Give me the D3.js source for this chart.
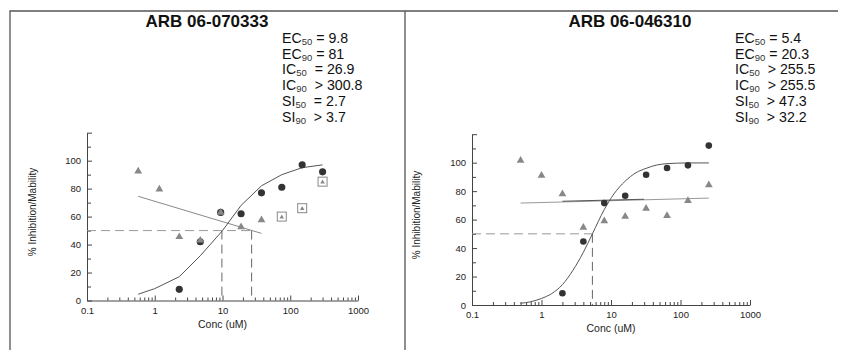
<!DOCTYPE html>
<html>
<head>
<meta charset="utf-8">
<script src="https://cdn.jsdelivr.net/npm/d3@7"></script>
<style>
  html, body { margin: 0; padding: 0; background: #fff; }
  svg { display: block; font-family: "Liberation Sans", Arial, sans-serif; }
  text { white-space: pre; }
</style>
</head>
<body>
<svg id="chart" width="843" height="350"></svg>
<script>
// ---------------- DATA ----------------
const titles = ["ARB 06-070333", "ARB 06-046310"];
const xTickValues = [0.1, 1, 10, 100, 1000];
const xTickLabels = ["0.1", "1", "10", "100", "1000"];
const yTickValues = [0, 20, 40, 60, 80, 100];
const yTickLabels = ["0", "20", "40", "60", "80", "100"];

// stats: [name, subscript, relation, value]
const leftStats = [
  ["EC", "50", " = ", "9.8"],
  ["EC", "90", " = ", "81"],
  ["IC", "50", "  = ", "26.9"],
  ["IC", "90", "  > ", "300.8"],
  ["SI", "50", "  = ", "2.7"],
  ["SI", "90", "  > ", "3.7"]
];
const rightStats = [
  ["EC", "50", " = ", "5.4"],
  ["EC", "90", " = ", "20.3"],
  ["IC", "50", "  > ", "255.5"],
  ["IC", "90", "  > ", "255.5"],
  ["SI", "50", "  > ", "47.3"],
  ["SI", "90", "  > ", "32.2"]
];

// left compound
const leftConc = [2.3, 4.7, 9.4, 18.8, 37.6, 75, 150, 300];
const leftInhibition = [8, 42, 63, 62, 77, 81, 97, 92];
const leftViabConc = [0.57, 1.17, 2.3, 4.7, 9.4, 18.8, 37.6];
const leftViability = [92.5, 79.5, 45.5, 43, 63, 52.5, 57.5];
const leftBoxedConc = [75, 150, 300];
const leftBoxedViability = [60, 66, 85];
const leftFitConc = [0.57, 1, 2.3, 4.7, 10, 18.8, 37.6, 75, 150, 300];
const leftFitValue = [4.5, 8.5, 17, 32, 50, 68, 82, 90, 95, 97];
const leftViabFitConc = [0.57, 37.6];
const leftViabFitValue = [74.5, 48];
const leftEC50 = 9.8;
const leftIC50 = 26.9;

// right compound
const rightConc = [2, 4, 8, 16, 32, 64, 128, 255.5];
const rightInhibition = [8.2, 44.6, 71.6, 76.8, 91.5, 96.2, 98.1, 112];
const rightViabConc = [0.5, 1, 2, 4, 8, 16, 32, 64, 128, 255.5];
const rightViability = [101.6, 91, 78, 54.4, 59, 62.2, 67.8, 62.7, 73.2, 84.3];
const rightFitConc = [0.5, 0.7, 1, 1.4, 2, 2.8, 4, 5.4, 8, 11, 16, 23, 32, 45, 64, 128, 255.5];
const rightFitValue = [1.2, 2.3, 4.6, 8, 14.3, 24, 37, 50, 67, 78, 87, 93, 96, 98.3, 99.3, 99.8, 99.8];
const rightViabFitConc = [0.5, 255.5];
const rightViabFitValue = [71.6, 75.1];
const rightDarkFitConc = [2, 30];
const rightDarkFitValue = [72.9, 74.3];
const rightEC50 = 5.4;

// ---------------- DRAWING ----------------
const svg = d3.select("#chart");

// panel borders
svg.append("path")
  .attr("d", "M10,351 L10,11 L405,11 L405,351 M405,11 L838,11")
  .attr("fill", "none").attr("stroke", "#555").attr("stroke-width", 1.3);

function zip(a, b) { return a.map((v, i) => [v, b[i]]); }

function drawPanel(cfg) {
  const g = svg.append("g");
  const x = d3.scaleLog().domain([0.1, 1000]).range([cfg.x0, cfg.x1]);
  const y = d3.scaleLinear().domain([0, 120]).range([cfg.y0, cfg.y120]);

  // title
  g.append("text").attr("x", cfg.titleX).attr("y", 27)
    .attr("text-anchor", "middle").attr("font-weight", "bold")
    .attr("font-size", 17).attr("fill", "#111").text(cfg.title);

  // stats
  cfg.stats.forEach((s, i) => {
    const t = g.append("text").attr("x", cfg.statsX).attr("y", 43 + i * 15.7)
      .attr("font-size", 14.2).attr("fill", "#111");
    t.append("tspan").text(s[0]);
    t.append("tspan").attr("font-size", 9.5).attr("dy", 2).attr("fill", "#333").text(s[1]);
    t.append("tspan").attr("dy", -2).text(s[2] + s[3]);
  });

  // axes
  const xAxis = d3.axisBottom(x).tickValues(xTickValues)
    .tickFormat((d, i) => xTickLabels[i]).tickSizeInner(-5).tickSizeOuter(0).tickPadding(4);
  const xMinorVals = [];
  [0.1, 1, 10, 100].forEach(dec => { for (let k = 2; k <= 9; k++) xMinorVals.push(dec * k); });
  const xMinor = d3.axisBottom(x).tickValues(xMinorVals).tickFormat("").tickSizeInner(-3).tickSizeOuter(0);

  const gx = g.append("g").attr("transform", `translate(0,${cfg.y0})`).call(xAxis);
  const gxm = g.append("g").attr("transform", `translate(0,${cfg.y0})`).call(xMinor);
  gxm.select(".domain").remove();

  const yAxis = d3.axisLeft(y).tickValues(yTickValues.concat([120]))
    .tickFormat(d => { const i = yTickValues.indexOf(d); return i >= 0 ? yTickLabels[i] : ""; })
    .tickSizeInner(-5).tickSizeOuter(0).tickPadding(6);
  const yMinor = d3.axisLeft(y).tickValues([10, 30, 50, 70, 90, 110]).tickFormat("")
    .tickSizeInner(-4).tickSizeOuter(0);
  const gy = g.append("g").attr("transform", `translate(${cfg.x0},0)`).call(yAxis);
  const gym = g.append("g").attr("transform", `translate(${cfg.x0},0)`).call(yMinor);
  gym.select(".domain").remove();

  [gx, gxm, gy, gym].forEach(a => {
    a.selectAll("path, line").attr("stroke", "#444").attr("stroke-width", 1);
    a.selectAll("text").attr("font-size", 9.5).attr("fill", "#222")
      .attr("font-family", "'Liberation Sans', Arial, sans-serif");
  });
  gx.selectAll("text").attr("dy", "0.95em");

  // axis labels
  g.append("text").attr("x", x(10)).attr("y", cfg.y0 + 27)
    .attr("text-anchor", "middle").attr("font-size", 10.5).attr("fill", "#222").text("Conc (uM)");
  g.append("text")
    .attr("transform", `translate(${cfg.yLabelX},${cfg.yLabelY}) rotate(-90)`)
    .attr("text-anchor", "middle").attr("font-size", 10).attr("fill", "#222")
    .text("% Inhibition/Mability");

  // dashed guide lines
  cfg.hDash && g.append("line")
    .attr("x1", cfg.x0).attr("x2", x(cfg.hDash)).attr("y1", y(50)).attr("y2", y(50))
    .attr("stroke", "#999").attr("stroke-width", 1).attr("stroke-dasharray", "9,5");
  cfg.vDash.forEach(v => {
    g.append("line").attr("x1", x(v)).attr("x2", x(v)).attr("y1", y(50)).attr("y2", y(0))
      .attr("stroke", "#666").attr("stroke-width", 1).attr("stroke-dasharray", "9,5");
  });

  // fit lines
  const line = d3.line().x(d => x(d[0])).y(d => y(d[1]));
  cfg.lines.forEach(l => {
    g.append("path").datum(zip(l.conc, l.value))
      .attr("d", line.curve(l.curve || d3.curveLinear))
      .attr("fill", "none").attr("stroke", l.color).attr("stroke-width", l.width || 1);
  });

  // markers: circles (inhibition)
  const circ = d3.symbol().type(d3.symbolCircle).size(cfg.circleSize);
  g.selectAll(null).data(zip(cfg.conc, cfg.inhib)).join("path")
    .attr("d", circ).attr("transform", d => `translate(${x(d[0])},${y(d[1])})`)
    .attr("fill", "#333");

  // boxed triangles
  if (cfg.boxConc) {
    const bt = d3.symbol().type(d3.symbolTriangle).size(9);
    zip(cfg.boxConc, cfg.boxViab).forEach(d => {
      g.append("rect").attr("x", x(d[0]) - 4.5).attr("y", y(d[1]) - 4.5)
        .attr("width", 9).attr("height", 9).attr("fill", "#fff")
        .attr("stroke", "#888").attr("stroke-width", 1);
      g.append("path").attr("d", bt).attr("transform", `translate(${x(d[0])},${y(d[1]) + 0.5})`)
        .attr("fill", "#888");
    });
  }

  // triangles (viability)
  const tri = d3.symbol().type(d3.symbolTriangle).size(26);
  g.selectAll(null).data(zip(cfg.viabConc, cfg.viab)).join("path")
    .attr("d", tri).attr("transform", d => `translate(${x(d[0])},${y(d[1])})`)
    .attr("fill", "#888");
}

drawPanel({
  title: titles[0], titleX: 207, statsX: 282, stats: leftStats,
  x0: 87, x1: 358, y0: 300.5, y120: 132.7,
  yLabelX: 36, yLabelY: 212,
  hDash: leftIC50, vDash: [leftEC50, leftIC50],
  lines: [
    { conc: leftViabFitConc, value: leftViabFitValue, color: "#8a8a8a" },
    { conc: leftFitConc, value: leftFitValue, color: "#555" }
  ],
  conc: leftConc, inhib: leftInhibition, circleSize: 40,
  viabConc: leftViabConc, viab: leftViability,
  boxConc: leftBoxedConc, boxViab: leftBoxedViability
});

drawPanel({
  title: titles[1], titleX: 630, statsX: 735, stats: rightStats,
  x0: 472, x1: 750, y0: 305, y120: 134.2,
  yLabelX: 420, yLabelY: 215,
  hDash: rightEC50, vDash: [rightEC50],
  lines: [
    { conc: rightViabFitConc, value: rightViabFitValue, color: "#999" },
    { conc: rightDarkFitConc, value: rightDarkFitValue, color: "#555" },
    { conc: rightFitConc, value: rightFitValue, color: "#555", curve: d3.curveMonotoneX }
  ],
  conc: rightConc, inhib: rightInhibition, circleSize: 34,
  viabConc: rightViabConc, viab: rightViability
});
</script>
</body>
</html>
